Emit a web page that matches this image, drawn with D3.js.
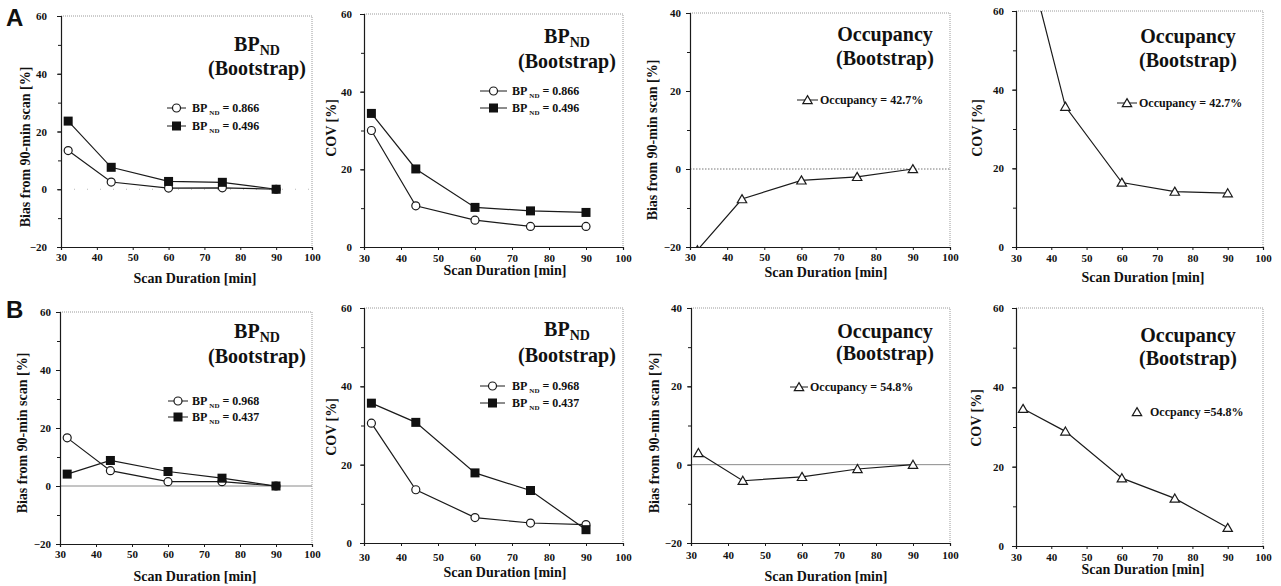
<!DOCTYPE html>
<html>
<head>
<meta charset="utf-8">
<script src="https://cdn.jsdelivr.net/npm/d3@7"></script>
<style>
  body { margin: 0; background: #fff; }
  svg text { font-family: "Liberation Serif", "Times New Roman", serif; font-weight: bold; fill: #111; }
</style>
</head>
<body>
<svg id="chart" width="1281" height="586"></svg>
<script>
// ── Data ──────────────────────────────────────────────────
const durations = [32, 44, 60, 75, 90];
const xTicks = [30, 40, 50, 60, 70, 80, 90, 100];

// Row A
const biasA_bpHigh = [13.4, 2.5, 0.4, 0.5, 0];      // BPND = 0.866
const biasA_bpLow  = [23.6, 7.6, 2.7, 2.4, 0];      // BPND = 0.496
const covA_bpHigh  = [30, 10.6, 6.9, 5.3, 5.3];
const covA_bpLow   = [34.4, 20.1, 10.2, 9.3, 8.9];
const occBiasA     = [-20.8, -7.7, -2.9, -2.0, 0];  // Occupancy = 42.7%
const occCovA      = [78, 35.7, 16.4, 14.1, 13.7];

// Row B
const biasB_bpHigh = [16.6, 5.3, 1.5, 1.5, 0];      // BPND = 0.968
const biasB_bpLow  = [4.1, 8.8, 5.0, 2.7, 0];       // BPND = 0.437
const covB_bpHigh  = [30.6, 13.6, 6.5, 5.1, 4.7];
const covB_bpLow   = [35.7, 30.8, 17.9, 13.4, 3.4];
const occBiasB     = [3.0, -4.1, -3.1, -1.1, 0];    // Occupancy = 54.8%
const occCovB      = [34.6, 28.9, 17.1, 12.0, 4.6];

const biasTicks = [-20, 0, 20, 40, 60];
const occBiasTicks = [-20, 0, 20, 40];
const covTicks = [0, 20, 40, 60];

const legendA_bp = ['= 0.866', '= 0.496'];
const legendB_bp = ['= 0.968', '= 0.437'];
const legendA_occ = 'Occupancy = 42.7%';
const legendB_occ = 'Occupancy = 54.8%';
const legendB_occ2 = 'Occpancy =54.8%';

// ── Panel layout ──────────────────────────────────────────
const panels = [
  { box: [61, 312, 16, 247], y: biasTicks, yTitle: 'Bias from 90-min scan [%]', yTitleX: 30, yTitleY: 147,
    yPad: 10, xPad: 3, xTitleX: 195, xTitleY: 283, zero: 'faint', title: 'bp', tX: 257, tY: [51, 75],
    series: [{ v: biasA_bpHigh, m: 'circle' }, { v: biasA_bpLow, m: 'square' }],
    legend: { x1: 167, x2: 186, tx: 192, ys: [108, 126], labels: legendA_bp, marks: ['circle', 'square'] } },
  { box: [364, 623, 14, 247], y: covTicks, yTitle: 'COV [%]', yTitleX: 336, yTitleY: 128,
    yPad: 8, xPad: 4, xTitleX: 505, xTitleY: 275, zero: null, title: 'bp', tX: 567, tY: [43, 68],
    series: [{ v: covA_bpHigh, m: 'circle' }, { v: covA_bpLow, m: 'square' }],
    legend: { x1: 480, x2: 507, tx: 512, ys: [91, 108], labels: legendA_bp, marks: ['circle', 'square'] } },
  { box: [690, 950, 13, 247], y: occBiasTicks, yTitle: 'Bias from 90-min scan [%]', yTitleX: 657, yTitleY: 140,
    yPad: 5, xPad: 3, xTitleX: 826, xTitleY: 277, zero: 'dotted', title: 'occ', tX: 885, tY: [41, 65],
    series: [{ v: occBiasA, m: 'triangle' }],
    legend: { x1: 797, x2: 818, tx: 820, ys: [100], labels: [legendA_occ], marks: ['triangle'] } },
  { box: [1016, 1263, 11, 247], y: covTicks, yTitle: 'COV [%]', yTitleX: 982, yTitleY: 128,
    yPad: 8, xPad: 4, xTitleX: 1143, xTitleY: 282, zero: null, title: 'occ', tX: 1188, tY: [43, 67],
    series: [{ v: occCovA, m: 'triangle' }],
    legend: { x1: 1117, x2: 1137, tx: 1139, ys: [103], labels: [legendA_occ], marks: ['triangle'] } },

  { box: [60, 312, 312, 544], y: biasTicks, yTitle: 'Bias from 90-min scan [%]', yTitleX: 27, yTitleY: 433,
    yPad: 5, xPad: 3, xTitleX: 195, xTitleY: 581, zero: 'solid', title: 'bp', tX: 257, tY: [338, 363],
    series: [{ v: biasB_bpHigh, m: 'circle' }, { v: biasB_bpLow, m: 'square' }],
    legend: { x1: 168, x2: 188, tx: 192, ys: [401, 417], labels: legendB_bp, marks: ['circle', 'square'] } },
  { box: [364, 623, 308, 543], y: covTicks, yTitle: 'COV [%]', yTitleX: 336, yTitleY: 427,
    yPad: 8, xPad: 7, xTitleX: 505, xTitleY: 577, zero: null, title: 'bp', tX: 567, tY: [336, 362],
    series: [{ v: covB_bpHigh, m: 'circle' }, { v: covB_bpLow, m: 'square' }],
    legend: { x1: 480, x2: 505, tx: 512, ys: [386, 403], labels: legendB_bp, marks: ['circle', 'square'] } },
  { box: [691, 950, 308, 543], y: occBiasTicks, yTitle: 'Bias from 90-min scan [%]', yTitleX: 659, yTitleY: 433,
    yPad: 5, xPad: 5, xTitleX: 826, xTitleY: 581, zero: 'solid', title: 'occ', tX: 885, tY: [338, 360],
    series: [{ v: occBiasB, m: 'triangle' }],
    legend: { x1: 790, x2: 808, tx: 810, ys: [387], labels: [legendB_occ], marks: ['triangle'] } },
  { box: [1016, 1263, 308, 546], y: covTicks, yTitle: 'COV [%]', yTitleX: 981, yTitleY: 418,
    yPad: 8, xPad: 4, xTitleX: 1143, xTitleY: 574, zero: null, title: 'occ', tX: 1188, tY: [342, 365],
    series: [{ v: occCovB, m: 'triangle' }],
    legend: { x1: null, x2: null, tx: 1150, ys: [412], labels: [legendB_occ2], marks: ['triangle'], mx: 1137 } }
];

const svg = d3.select('#chart');
const INK = '#1a1a1a';

function drawMarker(g, type, x, y) {
  if (type === 'circle') {
    g.append('circle').attr('cx', x).attr('cy', y).attr('r', 4)
      .attr('fill', '#fff').attr('stroke', INK).attr('stroke-width', 1.2);
  } else if (type === 'square') {
    g.append('rect').attr('x', x - 4.5).attr('y', y - 4.5).attr('width', 9).attr('height', 9)
      .attr('fill', '#111');
  } else {
    g.append('path')
      .attr('d', d3.symbol(d3.symbolTriangle, 38)())
      .attr('transform', `translate(${x},${y + 1})`)
      .attr('fill', '#fff').attr('stroke', INK).attr('stroke-width', 1.2);
  }
}

panels.forEach((p, i) => {
  const [l, r, t, b] = p.box;
  const xScale = d3.scaleLinear().domain([30, 100]).range([l, r]);
  const yScale = d3.scaleLinear().domain(d3.extent(p.y)).range([b, t]);
  const g = svg.append('g');

  // clip for off-scale points
  svg.append('clipPath').attr('id', `clip${i}`)
    .append('rect').attr('x', l).attr('y', t).attr('width', r - l).attr('height', b - t);

  // top / right frame (dotted grey)
  g.append('path')
    .attr('d', `M${l},${t}H${r}V${b}`)
    .attr('fill', 'none').attr('stroke', '#9a9a9a').attr('stroke-width', 1)
    .attr('stroke-dasharray', '1,1');

  // zero line
  if (p.zero) {
    const zl = g.append('line')
      .attr('x1', l).attr('x2', r).attr('y1', yScale(0)).attr('y2', yScale(0));
    if (p.zero === 'solid') zl.attr('stroke', '#8a8a8a').attr('stroke-width', 1);
    else if (p.zero === 'dotted') zl.attr('stroke', '#777').attr('stroke-dasharray', '1.5,1.5');
    else zl.attr('stroke', '#bbb').attr('stroke-dasharray', '1,12');
  }

  // minor y ticks
  const minor = d3.range(p.y[0], p.y[p.y.length - 1] + 1, 10);
  g.append('g').attr('transform', `translate(${l},0)`)
    .call(d3.axisLeft(yScale).tickValues(minor).tickSize(3).tickFormat(''))
    .call(ax => ax.select('.domain').remove())
    .call(ax => ax.selectAll('line').attr('stroke', INK));

  // axes
  g.append('g').attr('transform', `translate(${l},0)`)
    .call(d3.axisLeft(yScale).tickValues(p.y).tickSize(4).tickPadding(p.yPad))
    .call(ax => ax.select('.domain').attr('stroke', INK).attr('stroke-width', 1.2))
    .call(ax => ax.selectAll('line').attr('stroke', INK))
    .call(ax => ax.selectAll('text').attr('font-size', 11).attr('fill', '#111'));

  g.append('g').attr('transform', `translate(0,${b})`)
    .call(d3.axisBottom(xScale).tickValues(xTicks).tickSize(3).tickPadding(p.xPad))
    .call(ax => ax.select('.domain').attr('stroke', INK).attr('stroke-width', 1.2))
    .call(ax => ax.selectAll('line').attr('stroke', INK))
    .call(ax => ax.selectAll('text').attr('font-size', 11).attr('fill', '#111'));

  // axis titles
  g.append('text').attr('x', p.xTitleX).attr('y', p.xTitleY)
    .attr('text-anchor', 'middle').attr('font-size', 14)
    .text('Scan Duration [min]');

  g.append('text')
    .attr('transform', `translate(${p.yTitleX},${p.yTitleY}) rotate(-90)`)
    .attr('text-anchor', 'middle').attr('font-size', 14)
    .text(p.yTitle);

  // series
  const plot = g.append('g').attr('clip-path', `url(#clip${i})`);
  const line = d3.line().x((d, k) => xScale(durations[k])).y(d => yScale(d));
  p.series.forEach(s => {
    plot.append('path').datum(s.v).attr('d', line)
      .attr('fill', 'none').attr('stroke', INK).attr('stroke-width', 1.2);
  });
  p.series.forEach(s => {
    s.v.forEach((v, k) => drawMarker(plot, s.m, xScale(durations[k]), yScale(v)));
  });

  // title
  const title = g.append('text').attr('x', p.tX).attr('y', p.tY[0])
    .attr('text-anchor', 'middle').attr('font-size', 20);
  if (p.title === 'bp') {
    title.append('tspan').text('BP');
    title.append('tspan').attr('font-size', 14).attr('dy', 4).text('ND');
  } else {
    title.text('Occupancy');
  }
  g.append('text').attr('x', p.tX).attr('y', p.tY[1])
    .attr('text-anchor', 'middle').attr('font-size', 20)
    .text('(Bootstrap)');

  // legend
  const lg = p.legend;
  lg.ys.forEach((ly, k) => {
    if (lg.x1 != null) {
      g.append('line').attr('x1', lg.x1).attr('x2', lg.x2).attr('y1', ly).attr('y2', ly)
        .attr('stroke', INK).attr('stroke-width', 1);
      drawMarker(g, lg.marks[k], (lg.x1 + lg.x2) / 2, ly);
    } else {
      drawMarker(g, lg.marks[k], lg.mx, ly);
    }
    const txt = g.append('text').attr('x', lg.tx).attr('y', ly + 4).attr('font-size', 12);
    if (p.title === 'bp') {
      txt.append('tspan').text('BP');
      txt.append('tspan').attr('font-size', 7).attr('dy', 3).attr('dx', 2).text('ND');
      txt.append('tspan').attr('dy', -3).text(' ' + lg.labels[k]);
    } else {
      txt.text(lg.labels[k]);
    }
  });
});

// row letters
svg.append('text').attr('x', 6).attr('y', 26).text('A')
  .style('font-family', '"Liberation Sans", Arial, sans-serif').attr('font-size', 24);
svg.append('text').attr('x', 6).attr('y', 318).text('B')
  .style('font-family', '"Liberation Sans", Arial, sans-serif').attr('font-size', 24);
</script>
</body>
</html>
